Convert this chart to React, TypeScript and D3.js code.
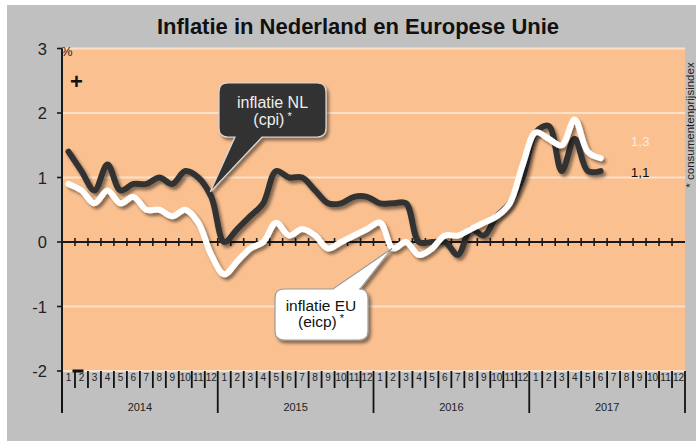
import React from "react";
import * as d3 from "d3";

const monthLabels = ["1", "2", "3", "4", "5", "6", "7", "8", "9", "10", "11", "12"];
const yearLabels = ["2014", "2015", "2016", "2017"];
const yTicks = [3, 2, 1, 0, -1, -2];
const gridValues = [3, 2, 1, -1, -2];

// inflatie NL (cpi), jan 2014 - jun 2017
const nlValues = [
  1.4, 1.1, 0.8, 1.2, 0.8, 0.9, 0.9, 1.0, 0.9, 1.1, 1.0, 0.7,
  0.0, 0.2, 0.4, 0.6, 1.1, 1.0, 1.0, 0.8, 0.6, 0.6, 0.7, 0.7,
  0.6, 0.6, 0.6, 0.0, 0.0, 0.0, -0.2, 0.2, 0.1, 0.4, 0.6, 1.0,
  1.7, 1.8, 1.1, 1.6, 1.1, 1.1,
];
// inflatie EU (eicp), jan 2014 - jun 2017
const euValues = [
  0.9, 0.8, 0.6, 0.8, 0.6, 0.7, 0.5, 0.5, 0.4, 0.5, 0.3, -0.2,
  -0.5, -0.3, -0.1, 0.0, 0.3, 0.1, 0.2, 0.1, -0.1, 0.0, 0.1, 0.2,
  0.3, -0.1, 0.0, -0.2, -0.1, 0.1, 0.1, 0.2, 0.3, 0.4, 0.6, 1.2,
  1.7, 1.6, 1.5, 1.9, 1.4, 1.3,
];
const nlLast = "1,1";
const euLast = "1,3";

const FONT = "'Liberation Sans', Arial, Helvetica, sans-serif";

export default function App() {
  const W = 696;
  const H = 445;
  const x = d3.scaleLinear().domain([0, 48]).range([62, 685]);
  const y = d3.scaleLinear().domain([-2, 3]).range([371, 48.5]);
  const line = d3
    .line<number>()
    .x((_, i) => x(i + 0.5))
    .y((d) => y(d))
    .curve(d3.curveCatmullRom.alpha(0.5));

  const y0 = y(0);
  const boundaries = d3.range(0, 49);

  // NL callout
  const nlTip = [x(11.5) - 1, y(nlValues[11]) - 5];
  const nb = { x0: 219, y0: 83, x1: 326, y1: 137, r: 9, b1: 235, b2: 262 };
  const nlPath = `M${nb.x0 + nb.r},${nb.y0} H${nb.x1 - nb.r} Q${nb.x1},${nb.y0} ${nb.x1},${nb.y0 + nb.r} V${nb.y1 - nb.r} Q${nb.x1},${nb.y1} ${nb.x1 - nb.r},${nb.y1} H${nb.b2} L${nlTip[0]},${nlTip[1]} L${nb.b1},${nb.y1} H${nb.x0 + nb.r} Q${nb.x0},${nb.y1} ${nb.x0},${nb.y1 - nb.r} V${nb.y0 + nb.r} Q${nb.x0},${nb.y0} ${nb.x0 + nb.r},${nb.y0} Z`;

  // EU callout
  const euTip = [x(25.5) - 1, y(euValues[25])];
  const eb = { x0: 275, y0: 289, x1: 368, y1: 340, r: 9, b1: 333, b2: 360 };
  const euPath = `M${eb.x0 + eb.r},${eb.y0} H${eb.b1} L${euTip[0]},${euTip[1]} L${eb.b2},${eb.y0} H${eb.x1 - eb.r} Q${eb.x1},${eb.y0} ${eb.x1},${eb.y0 + eb.r} V${eb.y1 - eb.r} Q${eb.x1},${eb.y1} ${eb.x1 - eb.r},${eb.y1} H${eb.x0 + eb.r} Q${eb.x0},${eb.y1} ${eb.x0},${eb.y1 - eb.r} V${eb.y0 + eb.r} Q${eb.x0},${eb.y0} ${eb.x0 + eb.r},${eb.y0} Z`;

  const lastX = x(nlValues.length - 0.5);

  return (
    <svg
      width={W}
      height={H}
      style={{ position: "absolute", left: 0, top: 0, fontFamily: FONT }}
    >
      <defs>
        <filter id="shadow" x="-20%" y="-20%" width="140%" height="140%">
          <feDropShadow dx="2.5" dy="3" stdDeviation="1.6" floodColor="#000" floodOpacity="0.45" />
        </filter>
      </defs>
      <rect x={0} y={0} width={W} height={H} fill="#ffffff" />
      <rect x={7} y={5} width={689} height={436} fill="#C0C0C0" />
      <rect x={x(0)} y={y(3)} width={x(48) - x(0)} height={y(-2) - y(3)} fill="#FAC090" />

      {gridValues.map((v) => (
        <line key={"g" + v} x1={x(0)} x2={x(48)} y1={y(v)} y2={y(v)} stroke="#FCE0C8" strokeWidth={1.8} />
      ))}

      {/* zero line with month ticks */}
      <line x1={x(0)} x2={x(48)} y1={y0} y2={y0} stroke="#1a1a1a" strokeWidth={2} />
      {boundaries.slice(1, 48).map((i) => (
        <line key={"zt" + i} x1={x(i)} x2={x(i)} y1={y0 - 4} y2={y0 + 4} stroke="#1a1a1a" strokeWidth={1.6} />
      ))}

      {/* left axis */}
      <line x1={x(0)} x2={x(0)} y1={y(3)} y2={413} stroke="#1a1a1a" strokeWidth={2} />
      {yTicks.map((v) => (
        <g key={"yt" + v}>
          <line x1={57} x2={x(0)} y1={y(v)} y2={y(v)} stroke="#1a1a1a" strokeWidth={1.6} />
          <text x={47} y={y(v) + 6} fontSize={16.5} textAnchor="end" fill="#222">
            {v < 0 ? "-" + Math.abs(v) : String(v)}
          </text>
        </g>
      ))}
      <text x={61} y={56} fontSize={13} fill="#222">%</text>
      <text x={76.5} y={88.5} fontSize={22} fontWeight="bold" textAnchor="middle" fill="#111">+</text>
      <line x1={72.5} x2={83.5} y1={y(-2)} y2={y(-2)} stroke="#111" strokeWidth={3} />

      {/* bottom month ticks */}
      {boundaries.map((i) => (
        <line
          key={"bt" + i}
          x1={x(i)}
          x2={x(i)}
          y1={y(-2)}
          y2={i % 12 === 0 ? 413 : 388}
          stroke="#111"
          strokeWidth={1.8}
        />
      ))}
      {d3.range(0, 48).map((i) => (
        <text key={"ml" + i} x={x(i + 0.5)} y={380.5} fontSize={10} textAnchor="middle" fill="#222">
          {monthLabels[i % 12]}
        </text>
      ))}
      {yearLabels.map((yr, j) => (
        <text key={yr} x={x(j * 12 + 6)} y={411} fontSize={11} textAnchor="middle" fill="#222">
          {yr}
        </text>
      ))}

      {/* series */}
      <path d={line(nlValues) || ""} fill="none" stroke="#333333" strokeWidth={6} strokeLinejoin="round" strokeLinecap="round" filter="url(#shadow)" />
      <path d={line(euValues) || ""} fill="none" stroke="#ffffff" strokeWidth={6} strokeLinejoin="round" strokeLinecap="round" filter="url(#shadow)" />

      <text x={lastX + 30} y={y(euValues[euValues.length - 1]) - 12} fontSize={13.5} fill="#FDEBDD">{euLast}</text>
      <text x={lastX + 30} y={y(nlValues[nlValues.length - 1]) + 6} fontSize={13.5} fill="#111">{nlLast}</text>

      {/* callouts */}
      <path d={nlPath} fill="#333333" stroke="#d8d8d8" strokeWidth={1.2} filter="url(#shadow)" />
      <text x={272.5} y={108} fontSize={16} textAnchor="middle" fill="#eeeeee">inflatie NL</text>
      <text x={272.5} y={125} fontSize={16} textAnchor="middle" fill="#eeeeee">
        (cpi)
        <tspan fontSize={11} dy={-5} dx={3}>*</tspan>
      </text>

      <path d={euPath} fill="#ffffff" stroke="#9a9a9a" strokeWidth={1.2} filter="url(#shadow)" />
      <text x={321} y={310.5} fontSize={15.5} textAnchor="middle" fill="#111">inflatie EU</text>
      <text x={321} y={327} fontSize={15.5} textAnchor="middle" fill="#111">
        (eicp)
        <tspan fontSize={11} dy={-5} dx={3}>*</tspan>
      </text>

      {/* title */}
      <text x={358} y={34} fontSize={22} fontWeight="bold" textAnchor="middle" fill="#111">
        Inflatie in Nederland en Europese Unie
      </text>

      {/* side note */}
      <text transform="translate(694,125) rotate(-90)" fontSize={11.5} textAnchor="middle" fill="#222">
        * consumentenprijsindex
      </text>
    </svg>
  );
}
